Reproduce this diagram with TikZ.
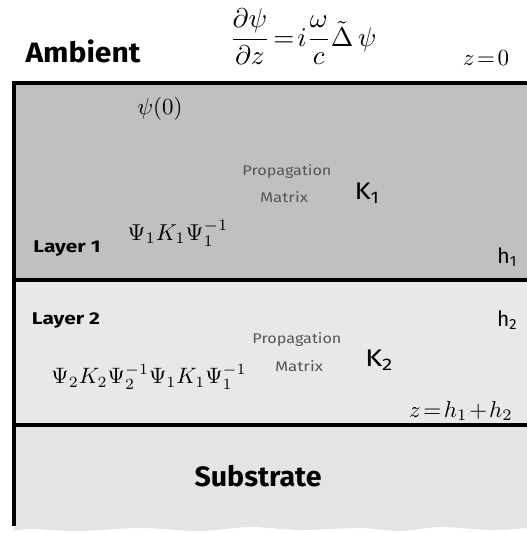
\documentclass[tikz,border=0pt]{standalone}
\usepackage{graphicx}
\usepackage{fontspec}
\newfontfamily\hand{Fira Sans}
\definecolor{layerone}{HTML}{C0C0C0}
\definecolor{layertwo}{HTML}{E8E8E8}
\definecolor{subs}{HTML}{E4E4E4}
\definecolor{propgray}{HTML}{555555}
\newcommand{\wfit}[2]{\resizebox{#1}{\height}{#2}}
\newcommand{\mfit}[2]{\resizebox{#1}{!}{#2}}
\newcommand{\msc}[1]{\scalebox{2.3}{#1}}
\newcommand{\tightm}{\thickmuskip=2mu\relax\medmuskip=1.5mu\relax}
\tikzset{
  border/.style={line width=4pt, black},
  lbl/.style={font=\hand\bfseries\fontsize{17}{20}\selectfont, inner sep=0pt},
  big/.style={font=\hand\bfseries\fontsize{28}{32}\selectfont, inner sep=0pt},
  prop/.style={font=\hand\fontsize{14}{16}\selectfont, text=propgray, inner sep=0pt},
  mth/.style={font=\fontsize{10}{12}\selectfont, inner sep=0pt},
  kk/.style={font=\hand\fontsize{24}{28}\selectfont, inner sep=0pt},
  hh/.style={font=\hand\fontsize{21}{24}\selectfont, inner sep=0pt},
}
\begin{document}
\begin{tikzpicture}[x=1pt,y=-1pt]
\useasboundingbox (0,0) rectangle (527,533);
% fills
\fill[layerone] (14,83) rectangle (527,279.5);
\fill[layertwo] (14,279.5) rectangle (527,425);
\fill[subs] (14,425) -- (527,425) --
  plot[smooth] coordinates {(527,528) (490,530) (440,527) (400,531) (360,528) (300,530) (250,527) (200,531) (140,528) (80,531) (30,529) (14,531)} -- cycle;
% borders
\draw[border] (12,83) -- (527,83);
\draw[border] (14,83) -- (14,526);
\draw[border] (14,279.5) -- (527,279.5);
\draw[border] (14,425) -- (527,425);
% texts
\node[big] (amb) at (83,51) {\wfit{115pt}{Ambient}};
\node[mth] (eq) at (303,37) {\mfit{147pt}{$\displaystyle\tightm\frac{\partial\psi}{\partial z}=i\frac{\omega}{c}\tilde{\Delta}\,\psi$}};
\node[mth] (z0) at (486,58) {\msc{$\tightm z=0$}};
\node[mth] (psi0) at (160,109) {\msc{$\psi(0)$}};
\node[prop] (pm1a) at (287,172) {\wfit{89pt}{Propagation}};
\node[prop] (pm1b) at (284,197) {\wfit{48pt}{Matrix}};
\node[kk] (k1) at (367,193) {\wfit{25pt}{K\textsubscript{1}}};
\node[mth] (m1) at (178,233) {\msc{$\Psi_1K_1\Psi_1^{-1}$}};
\node[lbl] (l1) at (67,248) {\wfit{67pt}{Layer 1}};
\node[hh] (h1) at (507,257) {\wfit{20pt}{h\textsubscript{1}}};
\node[lbl] (l2) at (66,320) {\wfit{68pt}{Layer 2}};
\node[hh] (h2) at (507,320) {\wfit{20pt}{h\textsubscript{2}}};
\node[prop] (pm2a) at (297,340) {\wfit{89pt}{Propagation}};
\node[prop] (pm2b) at (299,366) {\wfit{48pt}{Matrix}};
\node[kk] (k2) at (379,360) {\wfit{28pt}{K\textsubscript{2}}};
\node[mth] (m2) at (149,377) {\mfit{195pt}{$\Psi_2K_2\Psi_2^{-1}\Psi_1K_1\Psi_1^{-1}$}};
\node[mth] (zh) at (461,411) {\msc{$\tightm z=h_1+h_2$}};
\node[big] (sub) at (258,476) {\wfit{127pt}{Substrate}};
\end{tikzpicture}
\end{document}
